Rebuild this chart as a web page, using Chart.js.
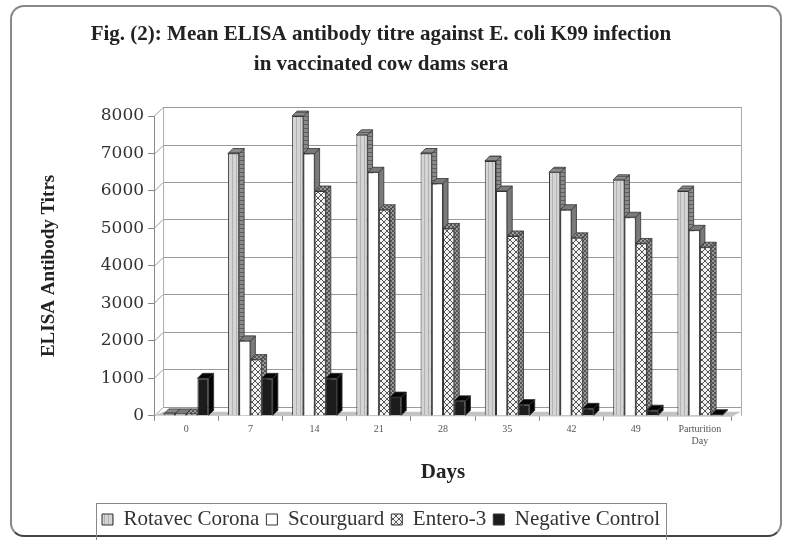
<!DOCTYPE html>
<html>
<head>
<meta charset="utf-8">
<script src="https://cdn.jsdelivr.net/npm/chart.js@4.4.1/dist/chart.umd.min.js"></script>
<style>
    body { margin: 0; background: #fff; }
    #wrap { position: relative; width: 786px; height: 540px; }
    #frame {
        position: absolute; left: 10px; top: 5px; width: 772px; height: 532px;
        border: 2px solid #888; border-bottom-color: #444; border-radius: 14px; box-sizing: border-box;
    }
    canvas { position: absolute; left: 0; top: 0; }
</style>
</head>
<body>
<div id="wrap">
    <div id="frame"></div>
    <canvas id="chart" width="786" height="540"></canvas>
</div>
<script>
// Dados
const days = ['0', '7', '14', '21', '28', '35', '42', '49', ['Parturition', 'Day']];
const rotavec = [50, 7000, 8000, 7500, 7000, 6800, 6500, 6300, 6000];
const scourguard = [50, 2000, 7000, 6500, 6200, 6000, 5500, 5300, 4950];
const entero3 = [50, 1500, 6000, 5500, 5000, 4800, 4750, 4600, 4500];
const negControl = [1000, 1000, 1000, 500, 400, 300, 200, 150, 30];
const yTicks = [0, 1000, 2000, 3000, 4000, 5000, 6000, 7000, 8000];

const serif = "'Liberation Serif', 'DejaVu Serif', serif";

// Padrões de preenchimento
function makePattern(size, draw) {
    const c = document.createElement('canvas');
    c.width = size;
    c.height = size;
    draw(c.getContext('2d'), size);
    return document.getElementById('chart').getContext('2d').createPattern(c, 'repeat');
}

const rotavecFill = makePattern(4, (g, s) => {
    g.fillStyle = '#d4d4d4';
    g.fillRect(0, 0, s, s);
    g.fillStyle = '#b2b2b2';
    g.fillRect(0, 0, 1, s);
});
const rotavecSide = makePattern(4, (g, s) => {
    g.fillStyle = '#8a8a8a';
    g.fillRect(0, 0, s, s);
    g.fillStyle = '#5e5e5e';
    g.fillRect(0, 0, s, 1);
});
const enteroFill = makePattern(6, (g, s) => {
    g.fillStyle = '#f2f2f2';
    g.fillRect(0, 0, s, s);
    g.strokeStyle = '#555';
    g.lineWidth = 1;
    g.beginPath();
    g.moveTo(0, 0); g.lineTo(s, s);
    g.moveTo(s, 0); g.lineTo(0, s);
    g.stroke();
});
const enteroSide = makePattern(4, (g, s) => {
    g.fillStyle = '#555';
    g.fillRect(0, 0, s, s);
    g.fillStyle = '#999';
    g.fillRect(0, 0, 2, 2);
    g.fillRect(2, 2, 2, 2);
});

const sideColors = [rotavecSide, '#7a7a7a', enteroSide, '#050505'];
const depth = 5;      // profundidade das barras
const wallDepth = 9;  // profundidade da parede do fundo

// Face lateral e topo das barras (efeito 3D)
const bar3d = {
    id: 'bar3d',
    beforeDatasetsDraw(chart) {
        const ctx = chart.ctx;
        ctx.save();
        chart.data.datasets.forEach((ds, i) => {
            const meta = chart.getDatasetMeta(i);
            meta.data.forEach(bar => {
                const right = bar.x + bar.width / 2;
                const left = bar.x - bar.width / 2;
                ctx.fillStyle = sideColors[i];
                ctx.strokeStyle = '#333';
                ctx.lineWidth = 0.8;
                ctx.beginPath();
                ctx.moveTo(right, bar.y);
                ctx.lineTo(right + depth, bar.y - depth);
                ctx.lineTo(right + depth, bar.base - depth);
                ctx.lineTo(right, bar.base);
                ctx.closePath();
                ctx.fill();
                ctx.stroke();
                ctx.beginPath();
                ctx.moveTo(left, bar.y);
                ctx.lineTo(left + depth, bar.y - depth);
                ctx.lineTo(right + depth, bar.y - depth);
                ctx.lineTo(right, bar.y);
                ctx.closePath();
                ctx.fill();
                ctx.stroke();
            });
        });
        ctx.restore();
    }
};

// Parede do fundo, grade e moldura da legenda
const boxes = {
    id: 'boxes',
    beforeDatasetsDraw(chart) {
        const a = chart.chartArea;
        const yScale = chart.scales.y;
        const ctx = chart.ctx;
        const wl = a.left + wallDepth;
        const wr = a.right + wallDepth;
        ctx.save();
        ctx.lineWidth = 1;
        ctx.strokeStyle = '#9a9a9a';
        yScale.ticks.forEach(t => {
            const y = Math.round(yScale.getPixelForValue(t.value)) + 0.5;
            ctx.beginPath();
            ctx.moveTo(a.left, y);
            ctx.lineTo(wl, y - wallDepth);
            ctx.lineTo(wr, y - wallDepth);
            ctx.stroke();
        });
        ctx.strokeStyle = '#aaa';
        ctx.beginPath();
        ctx.moveTo(wl + 0.5, a.top - wallDepth);
        ctx.lineTo(wl + 0.5, a.bottom - wallDepth);
        ctx.moveTo(wr + 0.5, a.top - wallDepth);
        ctx.lineTo(wr + 0.5, a.bottom);
        ctx.stroke();
        // piso
        ctx.fillStyle = '#c4c4c4';
        ctx.beginPath();
        ctx.moveTo(a.left, a.bottom);
        ctx.lineTo(wl, a.bottom - 4);
        ctx.lineTo(wr, a.bottom - 4);
        ctx.lineTo(a.right, a.bottom + 1);
        ctx.closePath();
        ctx.fill();
        ctx.restore();
    },
    afterDraw(chart) {
        const hb = chart.legend.legendHitBoxes;
        if (!hb || !hb.length) return;
        const left = Math.min(...hb.map(h => h.left)) - 6;
        const right = Math.max(...hb.map(h => h.left + h.width)) + 6;
        const top = chart.legend.top + 1;
        const ctx = chart.ctx;
        ctx.save();
        ctx.strokeStyle = '#888';
        ctx.lineWidth = 1;
        ctx.strokeRect(left + 0.5, top + 0.5, right - left, 40);
        ctx.restore();
    }
};

const chart = new Chart(document.getElementById('chart').getContext('2d'), {
    type: 'bar',
    data: {
        labels: days,
        datasets: [
            { label: 'Rotavec Corona', data: rotavec, backgroundColor: rotavecFill },
            { label: 'Scourguard', data: scourguard, backgroundColor: '#ffffff' },
            { label: 'Entero-3', data: entero3, backgroundColor: enteroFill },
            { label: 'Negative Control', data: negControl, backgroundColor: '#1c1c1c' }
        ].map(ds => ({
            ...ds,
            borderColor: '#333',
            borderWidth: 1,
            categoryPercentage: 0.7,
            barPercentage: 1.0
        }))
    },
    options: {
        responsive: false,
        animation: false,
        layout: { padding: { left: 30, right: 54, top: 20, bottom: 0 } },
        plugins: {
            title: {
                display: true,
                text: ['Fig. (2): Mean ELISA antibody titre against E. coli K99 infection', 'in vaccinated cow dams sera'],
                font: { family: serif, size: 21, weight: 'bold', lineHeight: 1.43 },
                color: '#222',
                padding: { top: 0, bottom: 36 }
            },
            legend: {
                position: 'bottom',
                labels: {
                    font: { family: serif, size: 21 },
                    color: '#333',
                    boxWidth: 11,
                    boxHeight: 11,
                    padding: 7
                }
            },
            tooltip: { enabled: false }
        },
        scales: {
            x: {
                grid: { display: true, drawOnChartArea: false, drawTicks: true, tickLength: 5, color: '#888', offset: true },
                border: { display: false },
                ticks: { font: { family: serif, size: 10 }, color: '#555', maxRotation: 0, autoSkip: false, padding: 3 },
                title: {
                    display: true,
                    text: 'Days',
                    font: { family: serif, size: 21, weight: 'bold' },
                    color: '#222',
                    padding: { top: 9, bottom: 17 }
                }
            },
            y: {
                min: 0,
                max: 8000,
                afterBuildTicks: axis => { axis.ticks = yTicks.map(v => ({ value: v })); },
                grid: { drawOnChartArea: false, color: '#888', tickLength: 6, drawTicks: true },
                border: { display: true, color: '#888' },
                ticks: {
                    font: { family: "'DejaVu Serif', serif", size: 17 },
                    color: '#333',
                    padding: 4,
                    callback: v => String(v)
                },
                title: {
                    display: true,
                    text: 'ELISA Antibody Titrs',
                    font: { family: serif, size: 19, weight: 'bold' },
                    color: '#222',
                    padding: { top: 8, bottom: 36 }
                }
            }
        }
    },
    plugins: [boxes, bar3d]
});
</script>
</body>
</html>
